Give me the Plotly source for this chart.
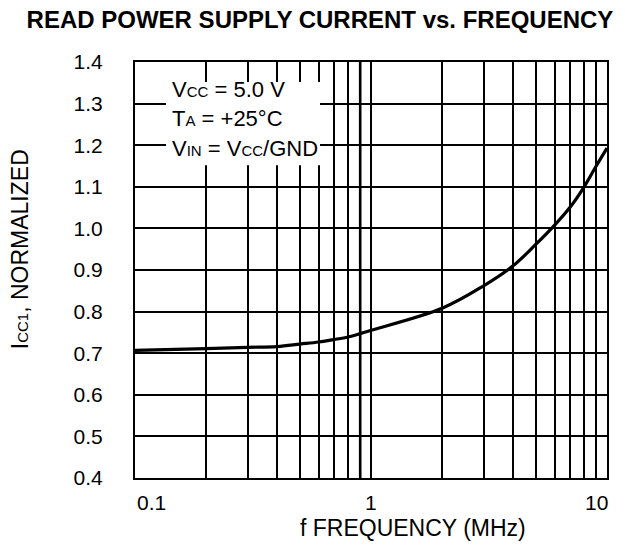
import math
import plotly.graph_objects as go

# Normalized read supply current vs. clock frequency
freq_mhz = [0.1, 0.2, 0.3, 0.4, 0.5, 0.6, 0.7, 0.8, 0.9, 1.0,
            2.0, 3.0, 4.0, 5.0, 6.0, 7.0, 8.0, 9.0, 10.0]
icc_norm = [0.707, 0.711, 0.714, 0.716, 0.722, 0.727, 0.733, 0.739, 0.747, 0.755,
            0.808, 0.862, 0.910, 0.962, 1.008, 1.052, 1.100, 1.150, 1.193]

# Grid positions
x_grid = [0.1, 0.2, 0.3, 0.4, 0.5, 0.6, 0.7, 0.8, 0.9,
          1, 2, 3, 4, 5, 6, 7, 8, 9, 10]
y_ticks = [0.4, 0.5, 0.6, 0.7, 0.8, 0.9, 1.0, 1.1, 1.2, 1.3, 1.4]
y_tick_text = [f"{v:.1f}" for v in y_ticks]
x_tick_vals = [0.1, 1, 10]
x_tick_text = ["0.1", "1", "10"]

FONT = "Liberation Sans, Arial, Helvetica, sans-serif"
SUB = "<span style='font-size:{}px'>{}</span>"

fig = go.Figure()

# heavier rule at 0.9 MHz
fig.add_trace(go.Scatter(x=[0.9, 0.9], y=[y_ticks[0], y_ticks[-1]], mode="lines",
                         line=dict(color="black", width=2.6), hoverinfo="skip",
                         showlegend=False))

fig.add_trace(go.Scatter(x=freq_mhz, y=icc_norm, mode="lines",
                         line=dict(color="black", width=3.2, shape="spline", smoothing=1),
                         showlegend=False))

fig.update_layout(
    width=625, height=550,
    margin=dict(l=135, r=18, t=62, b=72),
    paper_bgcolor="white", plot_bgcolor="white",
    font=dict(family=FONT, size=21, color="black"),
    title=dict(text="<b>READ POWER SUPPLY CURRENT vs. FREQUENCY</b>",
               x=0.512, xanchor="center", y=1 - 20 / 550, yanchor="middle",
               font=dict(family=FONT, size=24, color="black")),
    showlegend=False,
)

fig.update_xaxes(type="log", range=[-1, 1], tickvals=x_grid, showticklabels=False,
                 showgrid=True, gridcolor="black", gridwidth=1.5,
                 showline=True, linecolor="black", linewidth=2, mirror=True,
                 ticks="", zeroline=False)
fig.update_yaxes(range=[0.4, 1.4], tickvals=y_ticks, ticktext=y_tick_text,
                 showgrid=True, gridcolor="black", gridwidth=1.5,
                 showline=True, linecolor="black", linewidth=2, mirror=True,
                 ticks="outside", ticklen=26, tickcolor="rgba(0,0,0,0)",
                 tickfont=dict(size=21), zeroline=False)

# x tick labels kept inside the plot width
anchors = ["left", "center", "right"]
shifts = [0, 0, 3]
for v, t, a, s in zip(x_tick_vals, x_tick_text, anchors, shifts):
    fig.add_annotation(x=math.log10(v), y=-0.058, xref="x", yref="paper",
                       text=t, showarrow=False, xanchor=a, yanchor="middle",
                       xshift=s, font=dict(size=21))

# axis titles
fig.add_annotation(x=0.589, y=-0.12, xref="paper", yref="paper",
                   text="f FREQUENCY (MHz)", showarrow=False,
                   xanchor="center", yanchor="middle", font=dict(size=23))
fig.add_annotation(x=-0.2436, y=0.55, xref="paper", yref="paper",
                   text="I" + SUB.format(15, "CC1") + ", NORMALIZED", textangle=-90,
                   showarrow=False, xanchor="center", yanchor="middle",
                   font=dict(size=23))

# conditions box
fig.add_shape(type="rect", xref="paper", yref="paper",
              x0=0.0657, x1=0.392, y0=0.752, y1=0.952,
              fillcolor="white", line=dict(width=0), layer="above")
cond_lines = ["V" + SUB.format(15, "CC") + " = 5.0 V",
              "T" + SUB.format(15, "A") + " = +25°C",
              "V" + SUB.format(15, "IN") + " = V" + SUB.format(15, "CC") + "/GND"]
cond_y = [0.935, 0.863, 0.791]
for t, yy in zip(cond_lines, cond_y):
    fig.add_annotation(x=0.074, y=yy, xref="paper", yref="paper", text=t,
                       showarrow=False, xanchor="left", yanchor="middle",
                       font=dict(size=22))

fig.write_html("out.html")
